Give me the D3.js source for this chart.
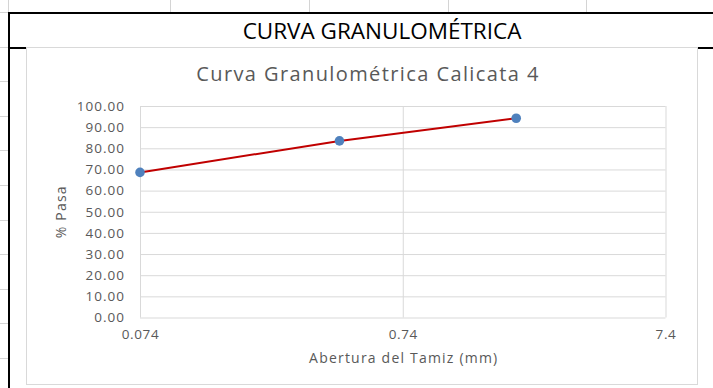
<!DOCTYPE html>
<html>
<head>
<meta charset="utf-8">
<script src="https://cdn.jsdelivr.net/npm/d3@7"></script>
<style>
  html, body { margin: 0; padding: 0; background: #fff; }
  svg { display: block; }
</style>
</head>
<body>
<svg id="sheet" width="713" height="388"></svg>
<script>
// Sieve openings (mm) and cumulative percent passing
const sieveSizes = [0.074, 0.425, 2.0];
const percentPassing = [68.6, 83.5, 94.2];

// Axis ticks
const xTicks = [0.074, 0.74, 7.4];
const yTicks = [0, 10, 20, 30, 40, 50, 60, 70, 80, 90, 100];

const sheetTitle = "CURVA GRANULOMÉTRICA";
const chartTitle = "Curva Granulométrica Calicata 4";
const xTitle = "Abertura del Tamiz (mm)";
const yTitle = "% Pasa";

const svg = d3.select("#sheet");
const W = 713, H = 388;
const font = "'Open Sans', 'Noto Sans', sans-serif";
const textGray = "#595959";
const cellGray = "#d4d4d4";

// --- spreadsheet cells behind the chart ---
const colLines = [8, 170, 309, 448, 586];
svg.selectAll("line.col").data(colLines).join("line")
  .attr("x1", d => d + 0.5).attr("x2", d => d + 0.5)
  .attr("y1", 0).attr("y2", 12)
  .attr("stroke", cellGray).attr("stroke-width", 1);

const rowLines = d3.range(0, 11).map(i => 12 + i * 34.6);
svg.selectAll("line.row").data(rowLines).join("line")
  .attr("x1", 0).attr("x2", 8)
  .attr("y1", d => Math.round(d) + 0.5).attr("y2", d => Math.round(d) + 0.5)
  .attr("stroke", cellGray).attr("stroke-width", 1);

// title cell borders
svg.append("line").attr("x1", 8).attr("x2", W).attr("y1", 13).attr("y2", 13)
  .attr("stroke", "#000").attr("stroke-width", 2);
svg.append("line").attr("x1", 9).attr("x2", 9).attr("y1", 12).attr("y2", H)
  .attr("stroke", "#000").attr("stroke-width", 2);
svg.append("line").attr("x1", 8).attr("x2", W).attr("y1", 48).attr("y2", 48)
  .attr("stroke", "#000").attr("stroke-width", 2);

svg.append("text")
  .attr("x", 382).attr("y", 38.5)
  .attr("text-anchor", "middle")
  .attr("font-family", "'Liberation Sans Narrow', 'Open Sans', sans-serif")
  .attr("font-size", 22.5)
  .attr("fill", "#000")
  .text(sheetTitle);

// --- chart area ---
const chartBox = { x: 26, y: 47, w: 671, h: 337 };
svg.append("rect")
  .attr("x", chartBox.x + 0.5).attr("y", chartBox.y + 0.5)
  .attr("width", chartBox.w).attr("height", chartBox.h)
  .attr("fill", "#fff").attr("stroke", "#d9d9d9").attr("stroke-width", 1);

const plot = { left: 140, right: 665.5, top: 106, bottom: 317.5 };

const x = d3.scaleLog().domain([0.074, 7.4]).range([plot.left, plot.right]);
const y = d3.scaleLinear().domain([0, 100]).range([plot.bottom, plot.top]);

// horizontal gridlines + y labels
const yAxis = d3.axisLeft(y).tickValues(yTicks).tickFormat(d3.format(".2f"))
  .tickSize(-(plot.right - plot.left)).tickPadding(15);
const gy = svg.append("g").attr("transform", `translate(${plot.left},0)`).call(yAxis);
gy.select(".domain").remove();
gy.selectAll(".tick line").attr("stroke", "#d9d9d9").attr("stroke-width", 1);
gy.selectAll(".tick text").attr("fill", textGray).attr("font-family", font)
  .attr("font-size", 13.5).attr("letter-spacing", 1);

// vertical gridlines + x labels
const xAxis = d3.axisBottom(x).tickValues(xTicks).tickFormat(d => String(d))
  .tickSize(-(plot.bottom - plot.top)).tickPadding(12);
const gx = svg.append("g").attr("transform", `translate(0,${plot.bottom})`).call(xAxis);
gx.select(".domain").remove();
gx.selectAll(".tick line").attr("stroke", "#d9d9d9").attr("stroke-width", 1);
gx.selectAll(".tick text").attr("fill", textGray).attr("font-family", font)
  .attr("font-size", 13.5).attr("letter-spacing", 0.6);

// chart title and axis titles
svg.append("text")
  .attr("x", 368).attr("y", 81)
  .attr("text-anchor", "middle")
  .attr("font-family", font).attr("font-size", 20)
  .attr("letter-spacing", 1.4)
  .attr("fill", textGray)
  .text(chartTitle);

svg.append("text")
  .attr("x", (plot.left + plot.right) / 2 + 1).attr("y", 363)
  .attr("text-anchor", "middle")
  .attr("font-family", font).attr("font-size", 14)
  .attr("letter-spacing", 1.2)
  .attr("fill", textGray)
  .text(xTitle);

svg.append("text")
  .attr("transform", `translate(66,${(plot.top + plot.bottom) / 2}) rotate(-90)`)
  .attr("text-anchor", "middle")
  .attr("font-family", font).attr("font-size", 14)
  .attr("letter-spacing", 1.2)
  .attr("fill", textGray)
  .text(yTitle);

// --- data series ---
const pts = sieveSizes.map((s, i) => ({ s, p: percentPassing[i] }));

svg.append("path")
  .datum(pts)
  .attr("fill", "none")
  .attr("stroke", "#c00000")
  .attr("stroke-width", 2)
  .attr("d", d3.line().x(d => x(d.s)).y(d => y(d.p)));

svg.selectAll("circle.pt").data(pts).join("circle")
  .attr("class", "pt")
  .attr("cx", d => x(d.s)).attr("cy", d => y(d.p))
  .attr("r", 4.8)
  .attr("fill", "#4f81bd");
</script>
</body>
</html>
